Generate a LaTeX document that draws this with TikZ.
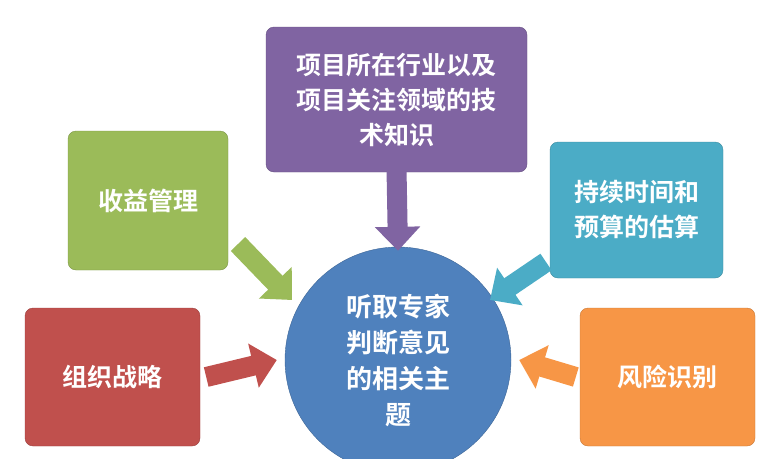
\documentclass[tikz,border=0pt]{standalone}
\usepackage{fontspec}
\setmainfont{Noto Sans CJK SC}[BoldFont={Noto Sans CJK SC Bold}]
\usetikzlibrary{arrows.meta}
\definecolor{cpur}{HTML}{8064A2}
\definecolor{cgrn}{HTML}{9BBB59}
\definecolor{ctea}{HTML}{4BACC6}
\definecolor{cred}{HTML}{C0504D}
\definecolor{cora}{HTML}{F79646}
\definecolor{cblu}{HTML}{4F81BD}
\begin{document}
\begin{tikzpicture}[x=1pt,y=-1pt,
 box/.style={rounded corners=8pt,text=white,font=\fontsize{25}{35}\selectfont\bfseries,align=center,inner sep=0pt,draw=#1!80!black,fill=#1},
 blk/.style={draw=#1,line width=20pt,-{Triangle[width=44pt,length=24pt]}}]
\useasboundingbox (0,0) rectangle (760,458);
\node[circle,fill=cblu,draw=cblu!80!black,minimum size=226pt,text=white,font=\fontsize{26}{36}\selectfont\bfseries,align=center,inner sep=0pt] (c) at (398,360) {听取专家\\判断意见\\的相关主\\题};
\node[box=cpur,minimum width=261pt,minimum height=145pt] (t) at (396.5,99.5) {项目所在行业以及\\项目关注领域的技\\术知识};
\node[box=cgrn,minimum width=160pt,minimum height=139pt] (g) at (148,200.5) {收益管理};
\node[box=ctea,minimum width=173pt,minimum height=136pt] (e) at (636.5,210) {持续时间和\\预算的估算};
\node[box=cred,minimum width=175pt,minimum height=138pt] (r) at (112.5,377) {组织战略};
\node[box=cora,minimum width=175pt,minimum height=138pt] (o) at (667.5,377) {风险识别};
\coordinate (g1) at (238,244); \coordinate (g2) at (292,300);
\coordinate (e1) at (546,262); \coordinate (e2) at (490,300);
\draw[blk=cpur] ([yshift=4pt]t.south) -- ([yshift=-4pt]c.north);
\draw[blk=cgrn] (g1) -- (g2);
\draw[blk=ctea] (e1) -- (e2);
\draw[blk=cred] ([xshift=6pt]r.east) -- ([xshift=-8pt]c.west);
\draw[blk=cora] ([xshift=-4pt]o.west) -- ([xshift=8pt]c.east);
\end{tikzpicture}
\end{document}
